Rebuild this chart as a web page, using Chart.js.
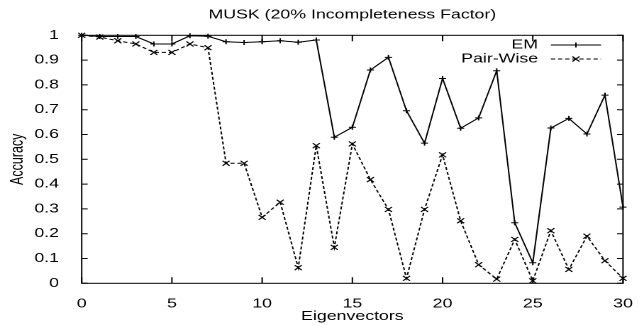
<!DOCTYPE html>
<html>
<head>
<meta charset="utf-8">
<script src="https://cdn.jsdelivr.net/npm/chart.js@4/dist/chart.umd.min.js"></script>
<style>
  html, body { margin: 0; padding: 0; background: #fff; overflow: hidden; }
  /* the original plot is stretched sideways, so we draw narrow and scale */
  #musk_chart { transform: scaleX(1.4185); transform-origin: 0 0; }
</style>
</head>
<body>
<canvas id="musk_chart" width="454" height="325"></canvas>
<script>
var eigenvectors = [0, 1, 2, 3, 4, 5, 6, 7, 8, 9, 10, 11, 12, 13, 14, 15,
    16, 17, 18, 19, 20, 21, 22, 23, 24, 25, 26, 27, 28, 29, 30];
var emAccuracy = [1.0, 0.995, 0.995, 0.995, 0.965, 0.965, 0.998, 0.996, 0.974, 0.971,
    0.974, 0.978, 0.972, 0.981, 0.589, 0.629, 0.86, 0.911, 0.696, 0.565,
    0.826, 0.625, 0.667, 0.857, 0.244, 0.083, 0.626, 0.665, 0.602, 0.759, 0.307];
var pairWiseAccuracy = [1.0, 0.993, 0.978, 0.965, 0.931, 0.931, 0.965, 0.95, 0.484, 0.484,
    0.266, 0.327, 0.063, 0.555, 0.145, 0.562, 0.418, 0.298, 0.02, 0.298,
    0.518, 0.252, 0.075, 0.017, 0.177, 0.01, 0.212, 0.056, 0.19, 0.091, 0.02];
var xTickValues = [0, 5, 10, 15, 20, 25, 30];
var yTickValues = [0, 0.1, 0.2, 0.3, 0.4, 0.5, 0.6, 0.7, 0.8, 0.9, 1];

var FONT = "'Liberation Sans', Arial, sans-serif";

function toPoints(values) {
    return eigenvectors.map(function (x, i) { return {x: x, y: values[i]}; });
}

// gnuplot style: box round the plot, ticks pointing inwards, title and key drawn by hand
var gnuplotFrame = {
    id: 'gnuplotFrame',
    afterDraw: function (chart) {
        var ctx = chart.ctx;
        var area = chart.chartArea;
        var xs = chart.scales.x, ys = chart.scales.y;
        ctx.save();
        ctx.strokeStyle = '#000';
        ctx.lineWidth = 1;
        ctx.setLineDash([]);
        ctx.strokeRect(area.left, area.top, area.right - area.left, area.bottom - area.top);

        ctx.beginPath();
        xTickValues.forEach(function (v) {
            var px = xs.getPixelForValue(v);
            ctx.moveTo(px, area.bottom); ctx.lineTo(px, area.bottom - 6);
            ctx.moveTo(px, area.top); ctx.lineTo(px, area.top + 6);
        });
        yTickValues.forEach(function (v) {
            var py = ys.getPixelForValue(v);
            ctx.moveTo(area.left, py); ctx.lineTo(area.left + 4.2, py);
            ctx.moveTo(area.right, py); ctx.lineTo(area.right - 4.2, py);
        });
        ctx.stroke();

        // title
        ctx.fillStyle = '#000';
        ctx.font = '12.5px ' + FONT;
        ctx.textAlign = 'center';
        ctx.textBaseline = 'middle';
        ctx.fillText('MUSK (20% Incompleteness Factor)', (area.left + area.right) / 2, 15);

        // key
        ctx.font = '12.5px ' + FONT;
        ctx.textAlign = 'right';
        var keys = [
            {label: 'EM', y: 45, dash: [], style: 'plus'},
            {label: 'Pair-Wise', y: 59, dash: [3, 2], style: 'x'}
        ];
        keys.forEach(function (k) {
            ctx.fillText(k.label, 379.3, k.y);
            ctx.setLineDash(k.dash);
            ctx.beginPath();
            ctx.moveTo(388.4, k.y); ctx.lineTo(423.7, k.y);
            ctx.stroke();
            ctx.setLineDash([]);
            var cx = 406, r = 2.5;
            ctx.beginPath();
            if (k.style === 'plus') {
                ctx.moveTo(cx - r, k.y); ctx.lineTo(cx + r, k.y);
                ctx.moveTo(cx, k.y - r); ctx.lineTo(cx, k.y + r);
            } else {
                ctx.moveTo(cx - r, k.y - r); ctx.lineTo(cx + r, k.y + r);
                ctx.moveTo(cx - r, k.y + r); ctx.lineTo(cx + r, k.y - r);
            }
            ctx.stroke();
        });
        ctx.restore();
    }
};

var ctx = document.getElementById('musk_chart').getContext('2d');

var musk_chart = new Chart(ctx, {
    type: 'line',
    data: {
        datasets: [{
            label: 'EM',
            data: toPoints(emAccuracy),
            borderColor: '#000',
            backgroundColor: '#000',
            borderWidth: 1,
            pointStyle: 'cross',
            pointRadius: 2.5,
            pointBorderWidth: 1,
            tension: 0,
            clip: false
        }, {
            label: 'Pair-Wise',
            data: toPoints(pairWiseAccuracy),
            borderColor: '#000',
            backgroundColor: '#000',
            borderWidth: 1,
            borderDash: [3, 2],
            pointStyle: 'crossRot',
            pointRadius: 3.5,
            pointBorderWidth: 1,
            tension: 0,
            clip: false
        }]
    },
    options: {
        responsive: false,
        animation: false,
        devicePixelRatio: 2,
        layout: {padding: {top: 35.3, right: 14.8, left: 0, bottom: 0}},
        plugins: {
            legend: {display: false},
            title: {display: false},
            tooltip: {enabled: false}
        },
        scales: {
            x: {
                type: 'linear',
                min: 0,
                max: 30,
                grid: {display: false},
                border: {display: false},
                ticks: {
                    stepSize: 5,
                    color: '#000',
                    padding: 5,
                    maxRotation: 0,
                    font: {family: FONT, size: 12.5}
                },
                title: {
                    display: true,
                    text: 'Eigenvectors',
                    color: '#000',
                    padding: {top: 0, bottom: 1},
                    font: {family: FONT, size: 12.5}
                },
                afterFit: function (scale) { scale.height = 41.7; }
            },
            y: {
                min: 0,
                max: 1,
                grid: {display: false},
                border: {display: false},
                ticks: {
                    stepSize: 0.1,
                    color: '#000',
                    padding: 8,
                    font: {family: FONT, size: 12.5},
                    callback: function (v) { return String(+v.toFixed(1)); }
                },
                title: {
                    display: true,
                    text: 'Accuracy',
                    color: '#000',
                    padding: {top: 5, bottom: 0},
                    font: {family: FONT, size: 12.5}
                },
                afterFit: function (scale) { scale.width = 57.6; }
            }
        }
    },
    plugins: [gnuplotFrame]
});
</script>
</body>
</html>
